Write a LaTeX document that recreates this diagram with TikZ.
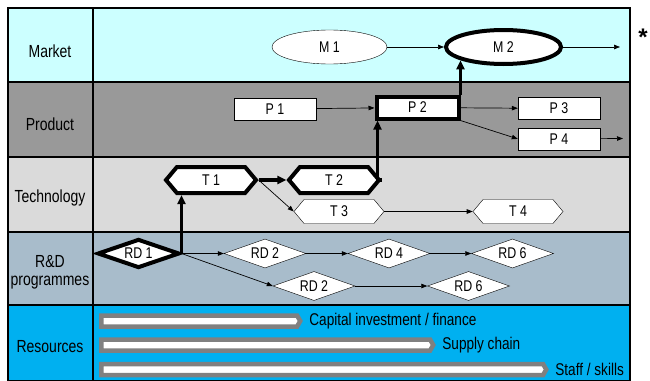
\documentclass[tikz,border=0pt]{standalone}
\usepackage{fontspec}
\setmainfont{Liberation Sans}
\newfontfamily\tallsf[FakeStretch=0.8]{Liberation Sans}
\usetikzlibrary{arrows.meta,positioning,shapes.geometric,shapes.symbols}

\definecolor{mktcol}{HTML}{CCFFFF}
\definecolor{prodcol}{HTML}{999999}
\definecolor{techcol}{HTML}{DADADA}
\definecolor{rdcol}{HTML}{A8BCCB}
\definecolor{rescol}{HTML}{00B0F0}
\definecolor{barcol}{HTML}{808080}

\begin{document}
\begin{tikzpicture}[x=1pt, y=-1pt,
  rowlab/.style={font=\tallsf\fontsize{17.5}{18}\selectfont, align=center},
  mkt/.style={draw, ellipse, fill=white, minimum width=115pt,
    minimum height=34pt, inner sep=0pt, font=\tallsf\fontsize{15.5}{16}\selectfont},
  prod/.style={draw, rectangle, fill=white, minimum width=82pt,
    minimum height=22pt, inner sep=0pt, font=\tallsf\fontsize{15.5}{16}\selectfont},
  tech/.style={draw, signal, signal to=east and west, signal pointer angle=100,
    fill=white, minimum width=90pt, minimum height=26pt, inner sep=0pt,
    font=\tallsf\fontsize{15.5}{16}\selectfont},
  prog/.style={draw, diamond, aspect=2.8, fill=white, minimum width=82pt,
    minimum height=29pt, inner sep=0pt, font=\tallsf\fontsize{15.5}{16}\selectfont},
  resbar/.style={draw=barcol, line width=4.5pt, fill=white, signal, signal to=east,
    signal pointer angle=120, minimum height=11pt, inner sep=0pt, anchor=west},
  reslab/.style={font=\tallsf\fontsize{17}{18}\selectfont},
  heavy/.style={line width=4pt},
  arr/.style={-{Triangle[length=6pt,width=4.5pt]}, line width=0.7pt},
  bigarr/.style={-{Triangle[length=9pt,width=8pt]}, line width=3.8pt},
]
  \useasboundingbox (0,0) rectangle (650,380);

  % rows
  \fill[mktcol]  (8,8)   rectangle (630,82);
  \fill[prodcol] (8,82)  rectangle (630,157);
  \fill[techcol] (8,157) rectangle (630,232);
  \fill[rdcol]   (8,232) rectangle (630,305);
  \fill[rescol]  (8,305) rectangle (630,381);
  \draw[line width=1.3pt] (8,8) rectangle (630,381);
  \draw[line width=1.3pt] (93,8) -- (93,381);
  \draw[line width=1.3pt] (8,82) -- (630,82);
  \draw[line width=1.3pt] (8,157) -- (630,157);
  \draw[line width=1.3pt] (8,232) -- (630,232);
  \draw[line width=1.3pt] (8,305) -- (630,305);

  \node[rowlab] (lmkt)  at (50,51)  {Market};
  \node[rowlab] (lprod) at (50,124) {Product};
  \node[rowlab] (ltech) at (50,198) {Technology};
  \node[rowlab] (lrd)   at (50,272) {R\&D\\programmes};
  \node[rowlab] (lres)  at (50,347) {Resources};

  % market
  \node[mkt] (m1) at (329.5,47) {M 1};
  \node[mkt, heavy] (m2) at (503.5,47) {M 2};
  \coordinate (mout) at (620,47);

  % product
  \node[prod] (p1) at (275,109) {P 1};
  \node[prod, heavy] (p2) at (417.5,107.5) {P 2};
  \node[prod] (p3) at (559,108.5) {P 3};
  \node[prod, below=8pt of p3] (p4) {P 4};
  \coordinate (pout) at (623,138.5);

  % technology
  \node[tech, heavy] (t1) at (211,180) {T 1};
  \node[tech, heavy] (t2) at (334,180) {T 2};
  \node[tech, minimum height=24pt] (t3) at (339,211.5) {T 3};
  \node[tech, minimum height=24pt] (t4) at (518,211.5) {T 4};

  % R&D programmes
  \node[prog, heavy] (rd1) at (138.5,253.5) {RD 1};
  \node[prog] (rd2) at (265,253.5) {RD 2};
  \node[prog] (rd4) at (389,253.5) {RD 4};
  \node[prog] (rd6) at (512.5,253.5) {RD 6};
  \node[prog] (rd2b) at (314,286) {RD 2};
  \node[prog] (rd6b) at (468.5,286) {RD 6};

  % resources
  \node[resbar, minimum width=199pt] (cap) at (99,321) {};
  \node[resbar, minimum width=332pt] (sup) at (99,345) {};
  \node[resbar, minimum width=445pt] (staff) at (99,369.5) {};
  \node[reslab, right=3pt of cap]   (lcap)   {Capital investment / finance};
  \node[reslab, right=3pt of sup]   (lsup)   {Supply chain};
  \node[reslab, right=3pt of staff] (lstaff) {Staff / skills};

  \node (star) at (643,37) {\bfseries\fontsize{24}{24}\selectfont *};

  % links
  \draw[arr] (m1) -- (m2);
  \draw[arr] (m2) -- (mout);
  \draw[arr] (p1) -- (p2);
  \draw[arr] (p2) -- (p3);
  \draw[arr] (p2.south east) -- (p4.west);
  \draw[arr] (p4) -- (pout);
  \draw[bigarr] (t1) -- (t2);
  \draw[arr] (t1.east) -- (t3.west);
  \draw[arr] (t3) -- (t4);
  \draw[arr] (rd1.east) -- (rd2.west);
  \draw[arr] (rd1.east) -- (rd2b.west);
  \draw[arr] (rd2) -- (rd4);
  \draw[arr] (rd4) -- (rd6);
  \draw[arr] (rd2b) -- (rd6b);

  % critical path
  \draw[bigarr] (rd1.east) -- (rd1.east |- t1.south);
  \draw[bigarr] (t2.east) -| ([xshift=3pt]p2.south west);
  \draw[bigarr] (p2.north east) -- (p2.north east |- m2.south west);
\end{tikzpicture}
\end{document}
